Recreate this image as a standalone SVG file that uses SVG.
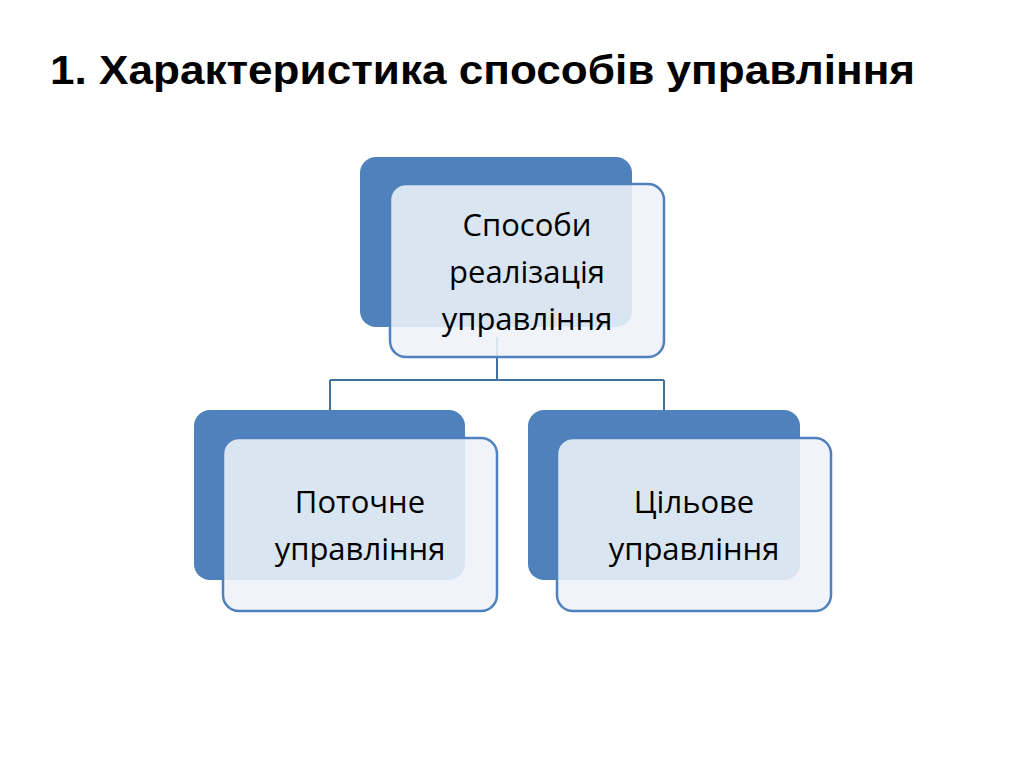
<svg xmlns="http://www.w3.org/2000/svg" width="1024" height="767" viewBox="0 0 1024 767">
<style>
.back{fill:#4f81bd}
.front{fill:#eef2f9;fill-opacity:0.88;stroke:#4f81bd;stroke-width:2.5}
.t{font-family:"Open Sans","Liberation Sans",sans-serif;font-size:31px;fill:#000;text-anchor:middle}
.c{stroke:#41719c;stroke-width:2;fill:none}
</style>
<rect width="1024" height="767" fill="#fff"/>
<text x="50" y="84" font-family="'Liberation Sans Narrow','Liberation Sans',sans-serif" font-weight="bold" font-size="40" textLength="865" lengthAdjust="spacingAndGlyphs">1. Характеристика способів управління</text>
<g id="connectors">
<path class="c" d="M497 337V380M330 380H664M330 380V412M664 380V412"/>
</g>
<g id="n1">
<rect class="back" x="360" y="157" width="272" height="170" rx="16"/>
<rect class="front" x="390" y="184" width="274" height="173" rx="16"/>
<text class="t" x="527" y="236">Способи</text>
<text class="t" x="527" y="283">реалізація</text>
<text class="t" x="527" y="330">управління</text>
</g>
<g id="n2">
<rect class="back" x="194" y="410" width="271" height="170" rx="16"/>
<rect class="front" x="223" y="438" width="274" height="173" rx="16"/>
<text class="t" x="360" y="513">Поточне</text>
<text class="t" x="360" y="560">управління</text>
</g>
<g id="n3">
<rect class="back" x="528" y="410" width="272" height="170" rx="16"/>
<rect class="front" x="557" y="438" width="274" height="173" rx="16"/>
<text class="t" x="694" y="513">Цільове</text>
<text class="t" x="694" y="560">управління</text>
</g>
</svg>
